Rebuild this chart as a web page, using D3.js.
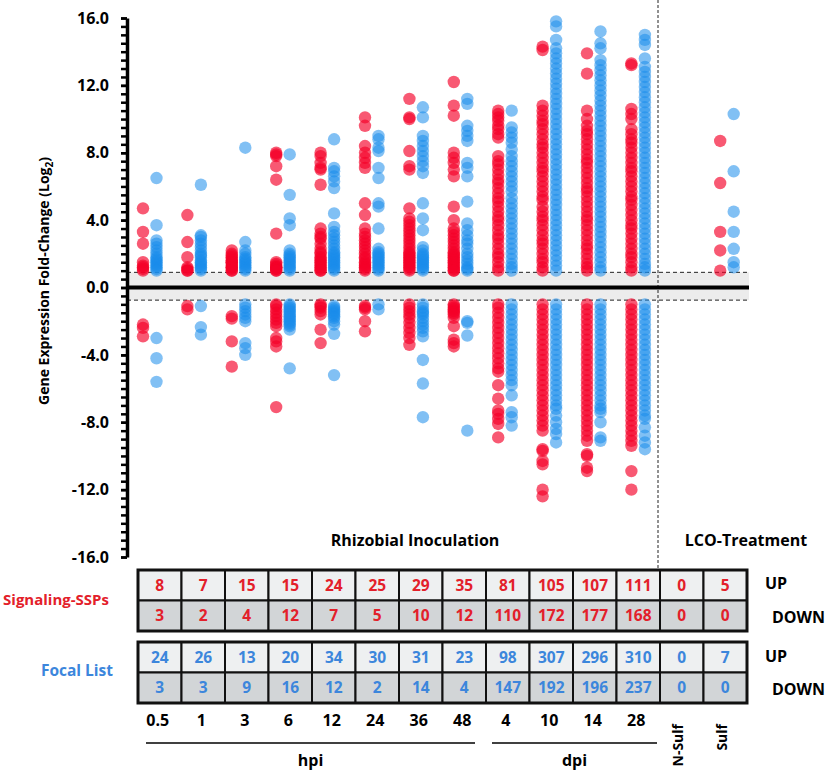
<!DOCTYPE html>
<html>
<head>
<meta charset="utf-8">
<script src="https://cdn.jsdelivr.net/npm/d3@7"></script>
<style>
  body { margin: 0; background: #fff; }
  text { font-family: "Open Sans", Lato, sans-serif; font-weight: bold; }
</style>
</head>
<body>
<div id="chart"></div>
<script>
// time points / treatments
var categories = ["0.5", "1", "3", "6", "12", "24", "36", "48", "4", "10", "14", "28", "N-Sulf", "Sulf"];
var yTicks = [-16, -12, -8, -4, 0, 4, 8, 12, 16];
var upThreshold = 0.9, downThreshold = -0.75;

// counts shown in the tables
var sspUp = [8, 7, 15, 15, 24, 25, 29, 35, 81, 105, 107, 111, 0, 5];
var sspDown = [3, 2, 4, 12, 7, 5, 10, 12, 110, 172, 177, 168, 0, 0];
var focalUp = [24, 26, 13, 20, 34, 30, 31, 23, 98, 307, 296, 310, 0, 7];
var focalDown = [3, 3, 9, 16, 12, 2, 14, 4, 147, 192, 196, 237, 0, 0];

// log2 fold-change values (Signaling-SSPs)
var sspUpVals = [
  [4.7, 3.3, 2.6, 1.5, 1.3, 1.2, 1.1, 1.0],
  [4.3, 2.7, 1.8, 1.2, 1.1, 1.0, 1.0],
  [2.2, 2.0, 1.9, 1.8, 1.7, 1.6, 1.5, 1.5, 1.4, 1.3, 1.2, 1.2, 1.1, 1.0, 1.0],
  [8.0, 7.9, 7.8, 7.2, 6.4, 3.2, 1.5, 1.4, 1.3, 1.2, 1.2, 1.1, 1.1, 1.0, 1.0],
  [8.0, 7.8, 7.4, 7.1, 7.0, 6.1, 3.5, 3.2, 3.0, 2.9, 2.6, 2.3, 2.1, 2.0, 1.8, 1.7, 1.6, 1.5, 1.4, 1.3, 1.2, 1.1, 1.0, 1.0],
  [10.1, 9.6, 8.4, 8.0, 7.7, 7.4, 7.1, 5.0, 4.3, 3.5, 3.2, 3.0, 2.8, 2.6, 2.4, 2.2, 2.0, 1.8, 1.7, 1.5, 1.4, 1.3, 1.2, 1.1, 1.0],
  [11.2, 10.1, 10.0, 8.1, 7.2, 7.0, 4.7, 4.1, 3.9, 3.7, 3.5, 3.3, 3.1, 2.9, 2.7, 2.5, 2.3, 2.1, 2.0, 1.9, 1.8, 1.7, 1.6, 1.5, 1.4, 1.3, 1.2, 1.1, 1.0],
  [12.2, 10.8, 10.2, 8.0, 7.7, 7.4, 7.0, 6.6, 4.8, 4.0, 3.5, 3.3, 3.1, 2.9, 2.7, 2.5, 2.3, 2.1, 2.0, 1.9, 1.8, 1.7, 1.6, 1.5, 1.4, 1.3, 1.2, 1.1, 1.0, 1.0],
  [10.5, 10.3, 10.1, 9.9, 9.6, 9.4, 9.1, 8.9, 7.8, 7.5, 7.3, 7.0, 6.7, 6.4, 6.2, 5.9, 5.6, 5.3, 5.1, 4.8, 4.5, 4.2, 4.0, 3.7, 3.4, 3.1, 2.9, 2.6, 2.3, 2.0, 1.8, 1.5, 1.2, 1.0],
  [14.3, 14.1, 10.8, 10.5, 10.2, 9.9, 9.7, 9.4, 9.1, 8.8, 8.5, 8.3, 8.0, 7.7, 7.4, 7.1, 6.9, 6.6, 6.3, 6.0, 5.7, 5.4, 5.2, 4.8, 4.5, 4.2, 4.0, 3.7, 3.4, 3.1, 2.8, 2.6, 2.3, 2.0, 1.7, 1.5, 1.2, 1.0],
  [13.9, 12.7, 10.5, 10.0, 9.6, 9.3, 9.1, 8.8, 8.5, 8.2, 7.9, 7.6, 7.4, 7.1, 6.8, 6.5, 6.2, 5.9, 5.7, 5.4, 5.1, 4.8, 4.5, 4.2, 4.0, 3.7, 3.4, 3.1, 2.8, 2.5, 2.3, 2.0, 1.7, 1.4, 1.2, 1.0],
  [13.3, 13.2, 10.6, 10.3, 10.0, 9.4, 9.1, 8.8, 8.6, 8.3, 8.0, 7.7, 7.4, 7.1, 6.9, 6.6, 6.3, 6.0, 5.7, 5.4, 5.2, 4.9, 4.6, 4.3, 4.0, 3.7, 3.5, 3.2, 2.9, 2.6, 2.3, 2.0, 1.8, 1.5, 1.2, 1.0],
  [],
  [8.7, 6.2, 3.3, 2.2, 1.0]
];
var sspDownVals = [
  [-2.2, -2.4, -2.9],
  [-1.1, -1.3],
  [-1.7, -1.85, -3.2, -4.7],
  [-1.0, -1.1, -1.3, -1.5, -1.7, -1.9, -2.1, -2.3, -3.0, -3.2, -3.5, -7.1],
  [-1.0, -1.1, -1.2, -1.4, -1.6, -2.5, -3.3],
  [-1.1, -1.2, -1.3, -2.0, -2.6],
  [-1.0, -1.2, -1.4, -1.6, -1.8, -2.1, -2.4, -2.7, -3.0, -3.4],
  [-1.0, -1.1, -1.2, -1.3, -1.4, -1.5, -1.6, -1.8, -2.3, -3.1, -3.3, -3.5],
  [-1.0, -1.2, -1.5, -1.8, -2.1, -2.4, -2.7, -3.0, -3.3, -3.6, -3.9, -4.2, -4.5, -4.8, -5.0, -5.8, -6.6, -7.3, -7.5, -7.8, -8.1, -8.9],
  [-1.0, -1.3, -1.6, -1.9, -2.2, -2.5, -2.8, -3.1, -3.4, -3.7, -4.0, -4.3, -4.6, -4.9, -5.2, -5.5, -5.8, -6.1, -6.4, -6.7, -7.0, -7.3, -7.6, -7.9, -8.2, -8.5, -9.6, -9.7, -10.3, -10.5, -12.0, -12.4],
  [-1.0, -1.3, -1.6, -1.9, -2.2, -2.5, -2.8, -3.1, -3.4, -3.7, -4.0, -4.3, -4.6, -4.9, -5.2, -5.5, -5.8, -6.1, -6.4, -6.7, -7.0, -7.3, -7.6, -7.9, -8.2, -8.5, -8.8, -9.1, -9.9, -10.0, -10.7, -10.9],
  [-1.0, -1.3, -1.6, -1.9, -2.2, -2.5, -2.8, -3.1, -3.4, -3.7, -4.0, -4.3, -4.6, -4.9, -5.2, -5.5, -5.8, -6.1, -6.4, -6.7, -7.0, -7.3, -7.6, -7.9, -8.2, -8.5, -8.8, -9.1, -9.4, -10.9, -12.0],
  [],
  []
];

// Focal List
var focalUpVals = [
  [6.5, 3.7, 2.8, 2.6, 2.4, 2.2, 2.0, 1.8, 1.7, 1.6, 1.5, 1.4, 1.3, 1.2, 1.1, 1.0],
  [6.1, 3.1, 3.0, 2.8, 2.6, 2.4, 2.2, 2.0, 1.9, 1.8, 1.6, 1.5, 1.4, 1.3, 1.2, 1.1, 1.0],
  [8.3, 2.7, 2.2, 2.0, 1.8, 1.7, 1.6, 1.5, 1.4, 1.3, 1.2, 1.1, 1.0],
  [7.9, 5.5, 4.1, 3.7, 2.2, 2.0, 1.9, 1.8, 1.7, 1.6, 1.5, 1.4, 1.3, 1.2, 1.1, 1.0],
  [8.8, 7.1, 6.9, 6.6, 6.3, 5.9, 4.4, 3.6, 3.3, 3.1, 2.9, 2.7, 2.5, 2.3, 2.1, 2.0, 1.9, 1.8, 1.7, 1.6, 1.5, 1.4, 1.3, 1.2, 1.1, 1.0],
  [9.0, 8.8, 8.3, 8.1, 7.1, 6.5, 5.0, 4.8, 3.5, 2.3, 2.1, 2.0, 1.9, 1.8, 1.7, 1.6, 1.5, 1.4, 1.3, 1.2, 1.1, 1.0],
  [10.7, 10.1, 9.0, 8.7, 8.4, 8.1, 7.8, 7.5, 7.2, 6.8, 5.0, 4.1, 3.4, 2.4, 2.2, 2.0, 1.9, 1.8, 1.7, 1.6, 1.5, 1.4, 1.3, 1.2, 1.1, 1.0],
  [11.2, 10.9, 9.6, 9.3, 9.0, 8.7, 7.4, 7.1, 6.6, 5.1, 3.8, 3.4, 3.1, 2.8, 2.6, 2.3, 2.0, 1.8, 1.6, 1.4, 1.2, 1.1, 1.0],
  [10.5, 9.5, 9.2, 8.9, 8.6, 8.2, 7.8, 7.5, 7.2, 6.9, 6.6, 6.3, 6.0, 5.7, 5.3, 5.0, 4.7, 4.4, 4.1, 3.8, 3.5, 3.2, 2.9, 2.6, 2.3, 2.0, 1.7, 1.4, 1.2, 1.0],
  [15.8, 15.5, 14.7, 14.2, 13.9, 13.6, 13.3, 13.0, 12.7, 12.4, 12.1, 11.8, 11.5, 11.2, 10.9, 10.6, 10.3, 10.0, 9.7, 9.4, 9.1, 8.8, 8.5, 8.2, 7.9, 7.6, 7.3, 7.0, 6.7, 6.4, 6.1, 5.8, 5.5, 5.2, 4.9, 4.6, 4.3, 4.0, 3.7, 3.4, 3.1, 2.8, 2.5, 2.2, 1.9, 1.6, 1.3, 1.0],
  [15.2, 14.5, 14.2, 13.5, 13.2, 12.9, 12.6, 12.3, 12.0, 11.7, 11.4, 11.1, 10.8, 10.5, 10.2, 9.9, 9.6, 9.3, 9.0, 8.7, 8.4, 8.1, 7.8, 7.5, 7.2, 6.9, 6.6, 6.3, 6.0, 5.7, 5.4, 5.1, 4.8, 4.5, 4.2, 3.9, 3.6, 3.3, 3.0, 2.7, 2.4, 2.1, 1.8, 1.5, 1.2, 1.0],
  [15.0, 14.7, 14.4, 13.6, 13.1, 12.8, 12.5, 12.2, 11.9, 11.6, 11.3, 11.0, 10.7, 10.4, 10.1, 9.8, 9.5, 9.2, 8.9, 8.6, 8.3, 8.0, 7.7, 7.4, 7.1, 6.8, 6.5, 6.2, 5.9, 5.6, 5.3, 5.0, 4.7, 4.4, 4.1, 3.8, 3.5, 3.2, 2.9, 2.6, 2.3, 2.0, 1.7, 1.4, 1.2, 1.0],
  [],
  [10.3, 6.9, 4.5, 3.3, 2.3, 1.5, 1.2]
];
var focalDownVals = [
  [-3.0, -4.2, -5.6],
  [-1.1, -2.35, -2.8],
  [-1.0, -1.2, -1.4, -1.6, -1.8, -2.0, -3.3, -3.6, -4.0],
  [-1.0, -1.1, -1.2, -1.3, -1.4, -1.5, -1.6, -1.7, -1.8, -1.9, -2.0, -2.1, -2.2, -2.3, -2.5, -4.8],
  [-1.1, -1.2, -1.3, -1.4, -1.5, -1.6, -1.7, -1.8, -2.0, -2.2, -2.75, -5.2],
  [-1.0, -1.3],
  [-1.0, -1.2, -1.4, -1.5, -1.6, -1.8, -2.0, -2.2, -2.4, -2.6, -2.9, -4.3, -5.7, -7.7],
  [-2.0, -2.1, -2.85, -8.5],
  [-1.0, -1.3, -1.6, -1.9, -2.2, -2.5, -2.8, -3.1, -3.4, -3.7, -4.0, -4.3, -4.6, -4.9, -5.2, -5.5, -5.8, -6.4, -7.4, -7.7, -8.2],
  [-1.0, -1.3, -1.6, -1.9, -2.2, -2.5, -2.8, -3.1, -3.4, -3.7, -4.0, -4.3, -4.6, -4.9, -5.2, -5.5, -5.8, -6.1, -6.4, -6.7, -7.0, -7.2, -7.6, -8.0, -8.4, -8.7, -9.2],
  [-1.0, -1.3, -1.6, -1.9, -2.2, -2.5, -2.8, -3.1, -3.4, -3.7, -4.0, -4.3, -4.6, -4.9, -5.2, -5.5, -5.8, -6.1, -6.4, -6.7, -7.0, -7.2, -7.4, -8.0, -8.9, -9.1],
  [-1.0, -1.3, -1.6, -1.9, -2.2, -2.5, -2.8, -3.1, -3.4, -3.7, -4.0, -4.3, -4.6, -4.9, -5.2, -5.5, -5.8, -6.1, -6.4, -6.7, -7.0, -7.3, -7.6, -7.8, -8.3, -8.8, -9.2, -9.6],
  [],
  []
];

var W = 826, H = 770;
var red = "rgb(245,0,40)", blue = "rgb(25,140,235)";
var redText = "#e3202a", blueText = "#3c86dc";

var svg = d3.select("#chart").append("svg")
    .attr("width", W)
    .attr("height", H);

var y = d3.scaleLinear().domain([-16, 16]).range([557, 18]);
var x = d3.scaleBand().domain(categories).range([138, 759.6]);   // dot columns
var xt = d3.scaleBand().domain(categories).range([138, 747]);    // table columns
var axisX = 127, plotRight = 749, lcoX = 658;

// grey no-change band
svg.append("rect")
    .attr("x", axisX).attr("width", plotRight - axisX)
    .attr("y", y(upThreshold)).attr("height", y(downThreshold) - y(upThreshold))
    .attr("fill", "#ececec");

[upThreshold, downThreshold].forEach(function(t) {
  svg.append("line")
      .attr("x1", axisX).attr("x2", plotRight)
      .attr("y1", y(t)).attr("y2", y(t))
      .attr("stroke", "#222").attr("stroke-width", 1)
      .attr("stroke-dasharray", "4,3");
});

// divider between inoculation and LCO treatment
svg.append("line")
    .attr("x1", lcoX).attr("x2", lcoX)
    .attr("y1", 0).attr("y2", 569)
    .attr("stroke", "#222").attr("stroke-width", 1)
    .attr("stroke-dasharray", "3,2");

// dots
var points = [];
categories.forEach(function(c, i) {
  sspUpVals[i].concat(sspDownVals[i]).forEach(function(v) { points.push({cat: c, v: v, set: "ssp"}); });
  focalUpVals[i].concat(focalDownVals[i]).forEach(function(v) { points.push({cat: c, v: v, set: "focal"}); });
});

svg.append("g").selectAll("circle")
    .data(points)
  .enter().append("circle")
    .attr("cx", function(d) { return x(d.cat) + (d.set === "ssp" ? 5 : 18.5); })
    .attr("cy", function(d) { return y(d.v); })
    .attr("r", 6.2)
    .attr("fill", function(d) { return d.set === "ssp" ? red : blue; })
    .attr("fill-opacity", function(d) { return d.set === "ssp" ? 0.65 : 0.55; });

// zero line
svg.append("line")
    .attr("x1", axisX).attr("x2", plotRight)
    .attr("y1", y(0)).attr("y2", y(0))
    .attr("stroke", "#000").attr("stroke-width", 4);

// y axis: minor ticks every 0.5, labelled every 4
var minorAxis = d3.axisLeft(y)
    .tickValues(d3.range(-16, 16.01, 0.5))
    .tickSize(6).tickSizeOuter(0)
    .tickFormat("");
var gMinor = svg.append("g")
    .attr("transform", "translate(" + axisX + ",0)")
    .call(minorAxis);
gMinor.selectAll(".tick line").attr("stroke-width", 2.5);
gMinor.select(".domain").attr("stroke-width", 3.5);

var majorAxis = d3.axisLeft(y)
    .tickValues(yTicks)
    .tickSize(6).tickSizeOuter(0).tickPadding(12)
    .tickFormat(function(d) { return d.toFixed(1); });
var gMajor = svg.append("g")
    .attr("transform", "translate(" + axisX + ",0)")
    .call(majorAxis);
gMajor.select(".domain").remove();
gMajor.selectAll(".tick line").attr("stroke-width", 2.5);
gMajor.selectAll("text")
    .attr("font-size", 16)
    .attr("fill", "#000")
    .style("font-family", "'Open Sans', sans-serif")
    .style("font-weight", "bold");

var yl = svg.append("text")
    .attr("transform", "translate(49,281) rotate(-90)")
    .attr("text-anchor", "middle")
    .attr("font-size", 14);
yl.append("tspan").text("Gene Expression Fold-Change (Log");
yl.append("tspan").attr("font-size", 10).attr("dy", 4).text("2");
yl.append("tspan").attr("dy", -4).text(")");

svg.append("text").attr("x", 415).attr("y", 546)
    .attr("text-anchor", "middle").attr("font-size", 16)
    .text("Rhizobial Inoculation");
svg.append("text").attr("x", 746).attr("y", 546)
    .attr("text-anchor", "middle").attr("font-size", 16)
    .text("LCO-Treatment");

// count tables
function drawTable(top, upCounts, downCounts, color) {
  var rowH = 30.5;
  var rows = [{vals: upCounts, fill: "#eef0f1", y: top}, {vals: downCounts, fill: "#d2d5d7", y: top + rowH}];
  rows.forEach(function(r) {
    var g = svg.append("g");
    g.selectAll("rect")
        .data(categories)
      .enter().append("rect")
        .attr("x", function(d) { return xt(d); })
        .attr("y", r.y)
        .attr("width", xt.bandwidth())
        .attr("height", rowH)
        .attr("fill", r.fill)
        .attr("stroke", "#111")
        .attr("stroke-width", 2);
    g.selectAll("text")
        .data(categories)
      .enter().append("text")
        .attr("x", function(d) { return xt(d) + xt.bandwidth() / 2; })
        .attr("y", r.y + rowH / 2 + 5.5)
        .attr("text-anchor", "middle")
        .attr("font-size", 15.5)
        .attr("fill", color)
        .text(function(d, i) { return r.vals[i]; });
  });
  svg.append("rect")
      .attr("x", xt.range()[0]).attr("y", top)
      .attr("width", xt.range()[1] - xt.range()[0]).attr("height", rowH * 2)
      .attr("fill", "none").attr("stroke", "#111").attr("stroke-width", 3);
}
drawTable(570, sspUp, sspDown, redText);
drawTable(642, focalUp, focalDown, blueText);

svg.append("text").attr("x", 109).attr("y", 605)
    .attr("text-anchor", "end").attr("font-size", 15).attr("fill", redText)
    .text("Signaling-SSPs");
svg.append("text").attr("x", 113).attr("y", 676)
    .attr("text-anchor", "end").attr("font-size", 15.5).attr("fill", blueText)
    .text("Focal List");

[["UP", 765, 589], ["DOWN", 772, 623], ["UP", 765, 662], ["DOWN", 772, 695]].forEach(function(t) {
  svg.append("text").attr("x", t[1]).attr("y", t[2]).attr("font-size", 16).text(t[0]);
});

// category labels under the tables
svg.append("g").selectAll("text")
    .data(categories.slice(0, 12))
  .enter().append("text")
    .attr("x", function(d) { return xt(d) + xt.bandwidth() / 2 - 2; })
    .attr("y", 726)
    .attr("text-anchor", "middle")
    .attr("font-size", 16)
    .text(function(d) { return d; });

categories.slice(12).forEach(function(c) {
  svg.append("text")
      .attr("transform", "translate(" + (xt(c) + xt.bandwidth() / 2 - 4) + ",724) rotate(-90)")
      .attr("text-anchor", "end")
      .attr("dominant-baseline", "central")
      .attr("font-size", 14)
      .text(c);
});

// time unit brackets
[["hpi", 146, 475], ["dpi", 492, 657]].forEach(function(b) {
  svg.append("line")
      .attr("x1", b[1]).attr("x2", b[2])
      .attr("y1", 743).attr("y2", 743)
      .attr("stroke", "#000").attr("stroke-width", 1.5);
  svg.append("text")
      .attr("x", (b[1] + b[2]) / 2).attr("y", 766)
      .attr("text-anchor", "middle").attr("font-size", 16)
      .text(b[0]);
});
</script>
</body>
</html>
